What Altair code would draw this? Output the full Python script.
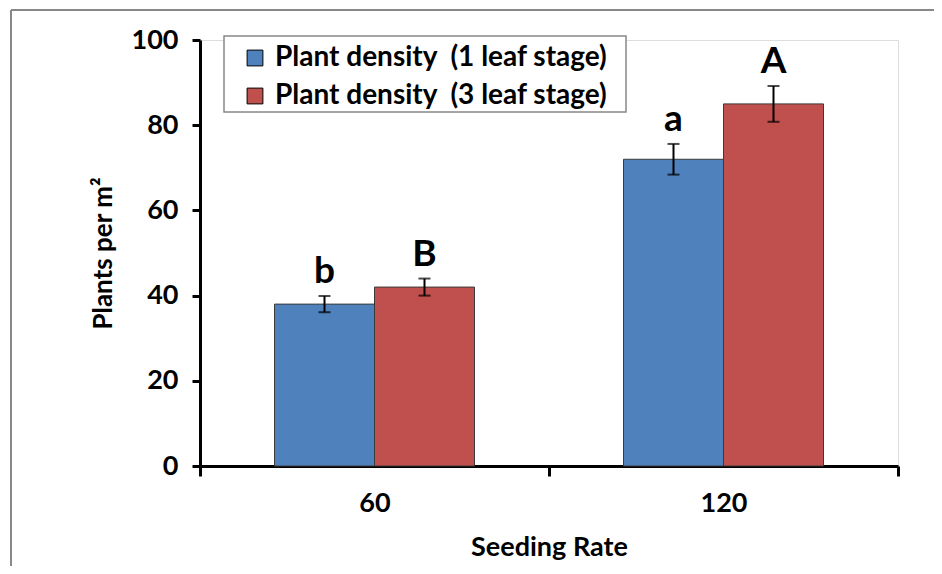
import altair as alt
import pandas as pd

rates = ["60", "120"]
series = ["Plant density\u00a0 (1 leaf stage)", "Plant density\u00a0 (3 leaf stage)"]
means_1leaf = [38, 72]
means_3leaf = [42, 85]
err_1leaf = [1.9, 3.6]
err_3leaf = [2.0, 4.2]
letters_1leaf = ["b", "a"]
letters_3leaf = ["B", "A"]
colors = ["#4F81BD", "#C0504D"]

rows = []
for i, r in enumerate(rates):
    rows.append(dict(rate=r, series=series[0], mean=means_1leaf[i], err=err_1leaf[i], letter=letters_1leaf[i]))
    rows.append(dict(rate=r, series=series[1], mean=means_3leaf[i], err=err_3leaf[i], letter=letters_3leaf[i]))
df = pd.DataFrame(rows)
df["lo"] = df["mean"] - df["err"]
df["hi"] = df["mean"] + df["err"]

FONT = "Lato"

x_enc = alt.X("rate:N", sort=rates, title="Seeding Rate",
              scale=alt.Scale(paddingInner=0, paddingOuter=0),
              axis=alt.Axis(labelAngle=0, tickBand="extent", domainWidth=3, domainColor="black",
                            tickWidth=3, tickColor="black", tickSize=10,
                            labelFontSize=27, labelFontWeight="bold", labelFont=FONT, labelColor="black",
                            labelPadding=14, titleFontSize=27, titleFontWeight="bold", titleFont=FONT,
                            titleColor="black", titlePadding=18))
xo = alt.XOffset("series:N", sort=series, scale=alt.Scale(paddingOuter=0.745, paddingInner=0))

base = alt.Chart(df)

legend_box = alt.Chart(pd.DataFrame({"k": [0]})).mark_rect(
    fill="white", stroke="#888888", strokeWidth=1.5).encode(
    x=alt.value(24), x2=alt.value(426), y=alt.value(-4), y2=alt.value(72))

bars = base.mark_bar(stroke="#3a3a3a", strokeWidth=1).encode(
    x=x_enc,
    xOffset=xo,
    y=alt.Y("mean:Q", title="Plants per m²", scale=alt.Scale(domain=[0, 100]),
            axis=alt.Axis(values=[0, 20, 40, 60, 80, 100], grid=False, domainWidth=3, domainColor="black",
                          tickWidth=3, tickColor="black", tickSize=8,
                          labelFontSize=27, labelFontWeight="bold", labelFont=FONT, labelColor="black",
                          labelPadding=14, titleFontSize=26, titleFontWeight="bold", titleFont=FONT,
                          titleColor="black", titlePadding=15)),
    color=alt.Color("series:N", sort=series, scale=alt.Scale(domain=series, range=colors),
                    legend=alt.Legend(title=None, orient="none", legendX=41, legendY=4,
                                      padding=0, symbolType="square", symbolSize=250,
                                      symbolStrokeColor="black", symbolStrokeWidth=1,
                                      labelFontSize=28, labelFontWeight="bold",
                                      labelFont=FONT, labelColor="black", labelLimit=0,
                                      rowPadding=10, labelOffset=6)),
)

rules = base.mark_rule(color="black", strokeWidth=2).encode(
    x=alt.X("rate:N", sort=rates), xOffset=xo, y="lo:Q", y2="hi:Q")
cap_hi = base.mark_tick(color="black", thickness=2, size=12).encode(
    x=alt.X("rate:N", sort=rates), xOffset=xo, y="hi:Q")
cap_lo = base.mark_tick(color="black", thickness=2, size=12).encode(
    x=alt.X("rate:N", sort=rates), xOffset=xo, y="lo:Q")
letters = base.mark_text(fontSize=37, fontWeight="bold", font=FONT, color="black",
                         baseline="bottom", dy=-5).encode(
    x=alt.X("rate:N", sort=rates), xOffset=xo, y="hi:Q", text="letter:N")

frame_top = alt.Chart(pd.DataFrame({"k": [0]})).mark_rule(color="#888888", strokeWidth=2).encode(
    x=alt.value(-189), x2=alt.value(760), y=alt.value(-30))
frame_left = alt.Chart(pd.DataFrame({"k": [0]})).mark_rule(color="#888888", strokeWidth=2).encode(
    x=alt.value(-189), y=alt.value(-30), y2=alt.value(560))

chart = alt.layer(frame_top, frame_left, legend_box, bars, rules, cap_hi, cap_lo, letters).properties(
    width=698, height=426,
    autosize=alt.AutoSizeParams(type="none"),
    padding={"left": 192, "top": 32, "right": 36, "bottom": 100},
).configure_view(stroke=None).configure(background="white")

chart.save("out.html", embed_options={"renderer": "svg", "actions": False})
